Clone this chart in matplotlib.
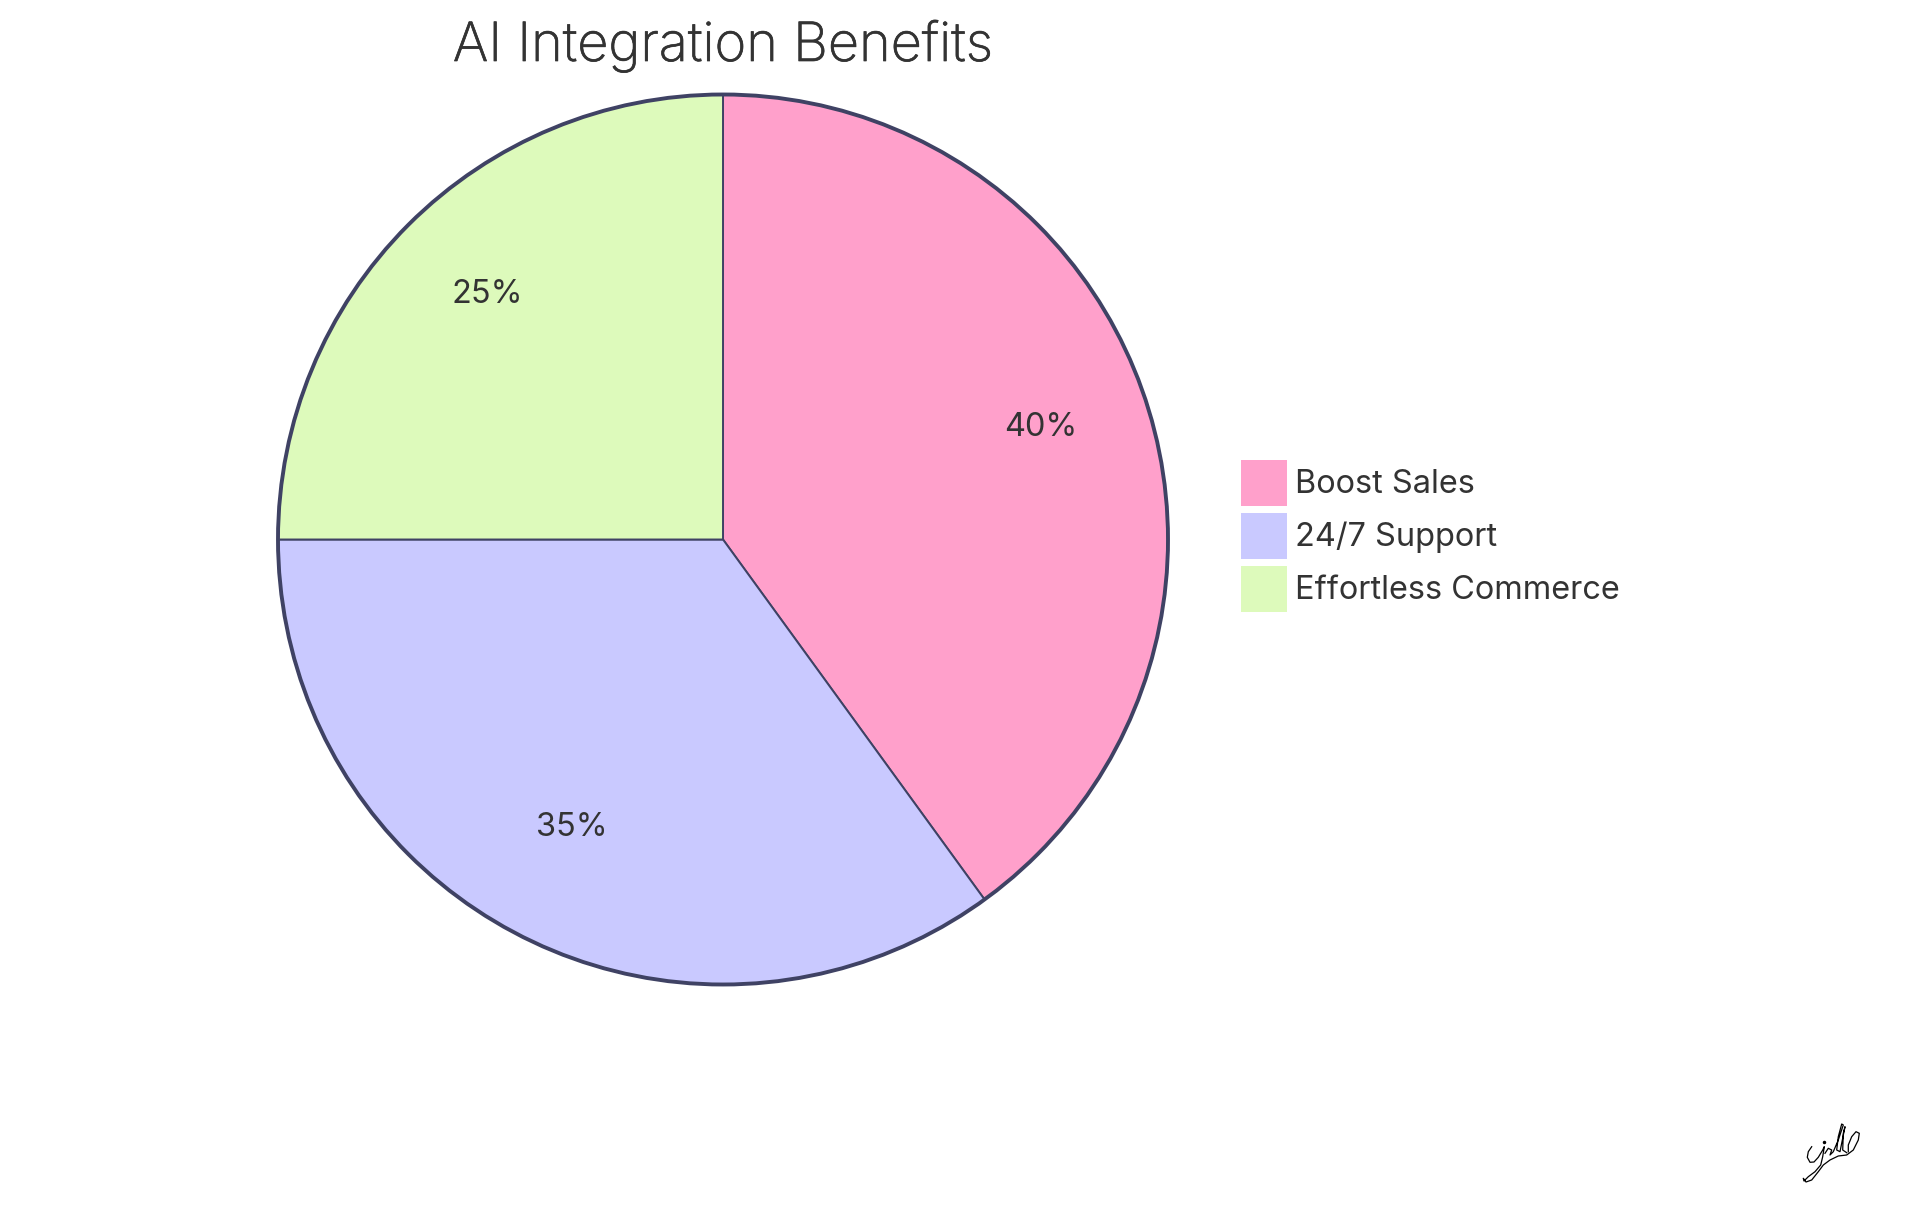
import matplotlib
matplotlib.use('Agg')
import numpy as np
import matplotlib.pyplot as plt
import matplotlib.patheffects as pe
from matplotlib.lines import Line2D
from matplotlib.patches import Circle

W, H = 1920, 1215

labels = ['Boost Sales', '24/7 Support', 'Effortless Commerce']
values = [40, 35, 25]
colors = ['#FFA0CB', '#C9C9FF', '#DDFABB']
edge = '#3F4264'
ink = '#333333'

# signature, in pixels
sig_x = [1811.7, 1808.3, 1807.3, 1810, 1814, 1818.3, 1822.7, 1824.3, 1822.7, 1820.7, 1815, 1808.3,
         1804, 1803.3, 1806, 1811.7, 1818.3, 1823.3, 1830, 1838.3, 1846.7, 1853.3, 1858.3, 1859.3,
         1856, 1851.7, 1848.3, 1848.3]
sig_y = [1146.7, 1151.7, 1157.3, 1162.3, 1162, 1157.3, 1150, 1146.7, 1156.7, 1165, 1171.7, 1176.7,
         1181, 1178.3, 1182, 1180, 1171.7, 1165, 1160, 1156, 1155, 1150, 1140, 1133.3,
         1131.7, 1136.7, 1145, 1151.7]
sig2_x = [1825, 1828.3, 1831.7, 1830, 1833.3, 1838.3, 1843.3, 1841.7, 1838.3, 1836.7, 1840, 1845, 1843.3, 1842.7, 1846.7]
sig2_y = [1153.3, 1148.3, 1150, 1155, 1151.7, 1140, 1125, 1124, 1136.7, 1150, 1151.7, 1126.7, 1133.3, 1150, 1152.7]
sig_dot = [1824.3, 1142.3]

fig = plt.figure(figsize=(W / 100, H / 100), dpi=100, facecolor='white')
plt.rcParams['font.family'] = ['Inter', 'DejaVu Sans']

cx, cy, r = 723, 539.5, 445
ax = fig.add_axes([(cx - r) / W, 1 - (cy + r) / H, 2 * r / W, 2 * r / H])

wedges, texts, pcts = ax.pie(values, colors=colors, startangle=90, counterclock=False,
                             autopct='%d%%', pctdistance=0.75,
                             wedgeprops={'edgecolor': edge, 'linewidth': 1.4},
                             textprops={'fontsize': 23.4, 'color': ink})
for t in pcts:
    x, y = t.get_position()
    t.set_position((x, y + 9 / r))
ax.add_patch(Circle((0, 0), 1, fill=False, edgecolor=edge, linewidth=2.8, clip_on=False))
ax.set_xlim(-1, 1)
ax.set_ylim(-1, 1)

title = fig.text(723 / W, 1 - 61 / H, 'AI Integration Benefits', ha='center', va='baseline',
                 fontsize=38.9, color=ink, fontweight='light')
title.set_path_effects([pe.withStroke(linewidth=0.5, foreground=ink)])

leg = fig.legend(wedges, labels, loc='upper left', bbox_to_anchor=(1241 / W, 1 - 460 / H),
                 frameon=False, fontsize=23.4, labelcolor=ink, borderpad=0, borderaxespad=0,
                 handlelength=1.4145, handleheight=1.8, labelspacing=0.215, handletextpad=0.24)
for h in leg.legend_handles:
    h.set_edgecolor('none')

for sx, sy in [(sig_x, sig_y), (sig2_x, sig2_y)]:
    fig.add_artist(Line2D(np.array(sx) / W, 1 - np.array(sy) / H, color='black', linewidth=0.9))
fig.add_artist(Line2D([sig_dot[0] / W], [1 - sig_dot[1] / H], color='black', marker='o', markersize=1.5))

fig.savefig('out.png', dpi=100)
